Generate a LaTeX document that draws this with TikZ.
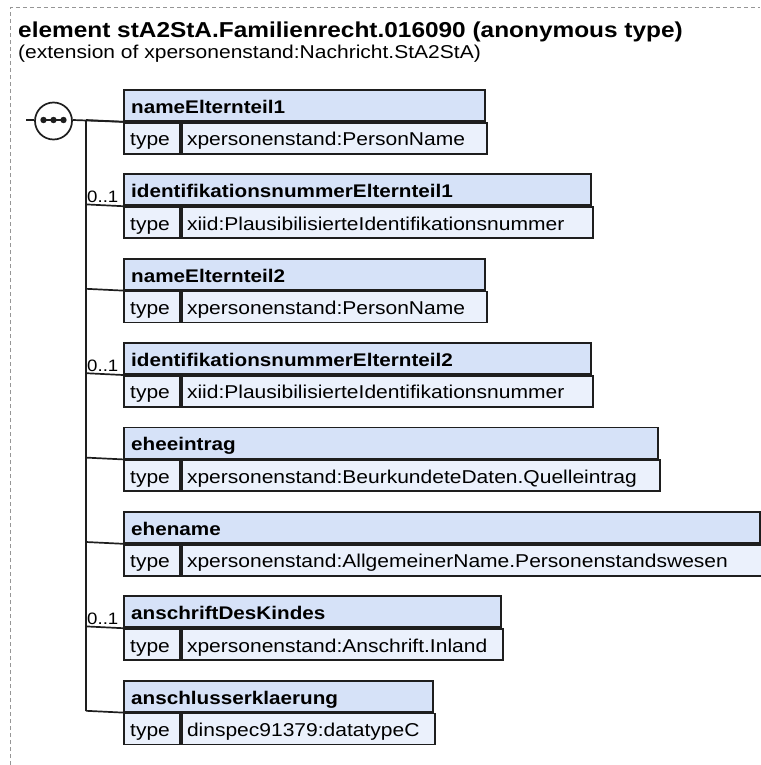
\documentclass[tikz,border=0pt]{standalone}
\usepackage{fontspec}
\setmainfont{Liberation Sans}[FakeStretch=1.13]
\definecolor{hdrblue}{RGB}{214,226,248}
\definecolor{rowblue}{RGB}{235,241,252}
\definecolor{edge}{RGB}{30,30,30}
\definecolor{frame}{RGB}{150,150,150}
\tikzset{
  boxline/.style={draw=edge, line width=1.8pt, inner sep=0pt, anchor=north west},
  hdrbox/.style={boxline, fill=hdrblue, minimum height=31pt},
  keybox/.style={boxline, fill=rowblue, minimum height=31pt, minimum width=56pt},
  valbox/.style={boxline, fill=rowblue, minimum height=31pt},
  hdrtxt/.style={anchor=base west, inner sep=0pt, font=\fontsize{18.3}{22}\selectfont\bfseries},
  rowtxt/.style={anchor=base west, inner sep=0pt, font=\fontsize{18.6}{22}\selectfont},
  occtxt/.style={anchor=base west, inner sep=0pt, font=\fontsize{16.5}{20}\selectfont},
  conn/.style={draw=edge, line width=1.7pt},
}
\newcommand\elem[5]{%
  \pgfmathsetmacro\wfull{#3-123}%
  \pgfmathsetmacro\wval{#3-179}%
  \node[hdrbox, minimum width=\wfull pt] (#1) at (123,#2) {};
  \node[hdrtxt] (#1-name) at ([xshift=8pt,yshift=8.5pt]#1.south west) {#4};
  \node[keybox] (#1-key) at (#1.south west) {};
  \node[valbox, minimum width=\wval pt] (#1-val) at (#1-key.north east) {};
  \node[rowtxt] (#1-keyt) at ([xshift=7pt,yshift=9pt]#1-key.south west) {type};
  \node[rowtxt] (#1-valt) at ([xshift=6pt,yshift=9pt]#1-val.south west) {#5};
  \coordinate (#1-c) at (86,#2+31);
  \draw[conn] (#1-c) -- (#1.south west);
}
\newcommand\occ[2]{%
  \node[occtxt] (#1-occ) at (87,#2+29.5) {0..1};
}
\begin{document}
\begin{tikzpicture}[x=1pt,y=-1pt]
\useasboundingbox (0,0) rectangle (760,765);
\draw[frame, line width=1pt, dash pattern=on 4pt off 3pt] (10,765) -- (10,8) -- (760,8);
\node[anchor=base west, inner sep=0pt, font=\fontsize{21.6}{26}\selectfont\bfseries] (title) at (18,38) {element stA2StA.Familienrecht.016090 (anonymous type)};
\node[anchor=base west, inner sep=0pt, font=\fontsize{18.6}{22}\selectfont] (subtitle) at (18,59) {(extension of xpersonenstand:Nachricht.StA2StA)};

\elem{e1}{89}{484}{nameElternteil1}{xpersonenstand:PersonName}
\elem{e2}{173.4}{590}{identifikationsnummerElternteil1}{xiid:PlausibilisierteIdentifikationsnummer}
\occ{e2}{173.4}
\elem{e3}{257.8}{484}{nameElternteil2}{xpersonenstand:PersonName}
\elem{e4}{342.2}{590}{identifikationsnummerElternteil2}{xiid:PlausibilisierteIdentifikationsnummer}
\occ{e4}{342.2}
\elem{e5}{426.6}{657}{eheeintrag}{xpersonenstand:BeurkundeteDaten.Quelleintrag}
\elem{e6}{511}{759}{ehename}{xpersonenstand:AllgemeinerName.Personenstandswesen}
\elem{e7}{595.4}{500}{anschriftDesKindes}{xpersonenstand:Anschrift.Inland}
\occ{e7}{595.4}
\elem{e8}{679.8}{432}{anschlusserklaerung}{dinspec91379:datatypeC}

% sequence compositor
\node[circle, draw=edge, fill=white, line width=1.7pt, minimum size=37pt, inner sep=0pt] (seq) at (53.5,121) {};
\coordinate (stub) at (26,120);
\coordinate (split) at (86,120);
\draw[conn] (stub) -- (seq.west |- stub);
\draw[conn] (seq.east |- stub) -- (e1.south west);
\draw[conn] (split) -- (e8-c);
\draw[edge, line width=1.5pt] (41,120) -- (66,120);
\foreach \dx in {43.5,53.5,63.5} \fill[edge] (\dx,120) circle (3.2pt);
\end{tikzpicture}
\end{document}
